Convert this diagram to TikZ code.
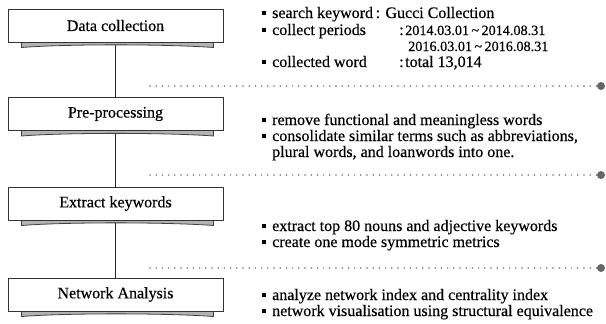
\documentclass[tikz,border=0pt]{standalone}
\usepackage{fontspec}
\setmainfont{Liberation Serif}[FakeBold=0.4]
\usetikzlibrary{calc,backgrounds}
\tikzset{
  stepbox/.style={draw=black!80, line width=1pt, fill=white, minimum width=215pt, minimum height=33pt, inner sep=0pt, font=\fontsize{16}{17}\selectfont},
  txt/.style={anchor=base west, inner sep=0pt, font=\fontsize{16}{17}\selectfont, text=black},
  small/.style={font=\fontsize{14.2}{17}\selectfont},
  dotline/.style={line width=1.7pt, black!55, dash pattern=on 0pt off 6.2pt, line cap=round},
  enddot/.style={circle, fill=black!60, inner sep=0pt, minimum size=8pt},
  conn/.style={line width=0.8pt, black!85},
  shadowfill/.style={fill=black!30, draw=black!75, line width=0.8pt}
}
\newcommand{\bul}{\rule[3pt]{4pt}{4pt}\hspace{6pt}}
\begin{document}
\begin{tikzpicture}[x=1pt,y=-1pt]
\useasboundingbox (0,0) rectangle (606,324);
% boxes
\node[stepbox] (dc) at (115.5,25.5) {Data collection};
\node[stepbox] (pp) at (115.5,114) {Pre-processing};
\node[stepbox] (ek) at (115.5,203.5) {Extract keywords};
\node[stepbox] (na) at (115.5,294.5) {Network Analysis};
\begin{scope}[on background layer]
\draw[conn] (dc.south) -- (pp.north);
\draw[conn] (pp.south) -- (ek.north);
\draw[conn] (ek.south) -- (na.north);
\foreach \n in {dc,pp,ek,na}{
  \path[shadowfill] ($(\n.south west)+(14,-1)$) -- ($(\n.south west)+(14,5)$)
     .. controls ($(\n.south)+(-50,1.5)$) and ($(\n.south)+(50,1.5)$) .. ($(\n.south east)+(-10,5)$)
     -- ($(\n.south east)+(-10,-1)$) -- cycle;
}
\end{scope}
% dotted separators
\coordinate (s1) at (150,86);
\coordinate (s2) at (150,175);
\coordinate (s3) at (150,268);
\node[enddot] (e1) at (601,86) {};
\node[enddot] (e2) at (601,175) {};
\node[enddot] (e3) at (601,268) {};
\draw[dotline] (s1) -- (e1.west);
\draw[dotline] (s2) -- (e2.west);
\draw[dotline] (s3) -- (e3.west);
% text
\node[txt] (t1) at (262,18) {\bul search keyword\,: Gucci Collection};
\node[txt] (t2) at (262,35) {\bul collect periods};
\node[txt] (t2c) at (399,35) {:};
\node[txt,small] (t2b) at (405,35) {2014.03.01\,\textasciitilde\,2014.08.31};
\node[txt,small] (t3) at (408,51) {2016.03.01\,\textasciitilde\,2016.08.31};
\node[txt] (t4) at (262,67) {\bul collected word};
\node[txt] (t4c) at (399,67) {:};
\node[txt] (t4b) at (405,67) {total 13,014};
\node[txt] (p1) at (262,125) {\bul remove functional and meaningless words};
\node[txt] (p2) at (262,141) {\bul consolidate similar terms such as abbreviations,};
\node[txt] (p3) at (272,157) {plural words, and loanwords into one.};
\node[txt] (k1) at (262,231) {\bul extract top 80 nouns and adjective keywords};
\node[txt] (k2) at (262,247) {\bul create one mode symmetric metrics};
\node[txt] (n1) at (262,300) {\bul analyze network index and centrality index};
\node[txt] (n2) at (262,316) {\bul network visualisation using structural equivalence};
\end{tikzpicture}
\end{document}
